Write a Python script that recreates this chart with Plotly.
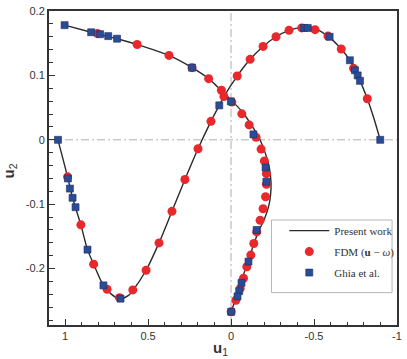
import plotly.graph_objects as go

# ---- Data ----
# Curve along vertical centreline (u1 vs u2)
line_v_u1 = [1.003, 0.843, 0.687, 0.566, 0.374, 0.235, 0.135, 0.057, -0.003, -0.066, -0.123,
             -0.171, -0.207, -0.231, -0.241, -0.238, -0.225, -0.201, -0.168, -0.138, -0.108,
             -0.081, -0.057, -0.036, -0.018, -0.001]
line_v_u2 = [0.178, 0.167, 0.157, 0.148, 0.131, 0.112, 0.095, 0.076, 0.061, 0.044, 0.023,
             0.002, -0.021, -0.044, -0.067, -0.086, -0.105, -0.123, -0.141, -0.161, -0.185,
             -0.205, -0.223, -0.242, -0.254, -0.267]

# Curve along horizontal centreline
line_h_u1 = [1.043, 0.985, 0.955, 0.905, 0.865, 0.828, 0.769, 0.720, 0.672, 0.620, 0.592, 0.512,
             0.434, 0.356, 0.278, 0.199, 0.121, 0.071, 0.043, -0.037, -0.115, -0.193, -0.271,
             -0.349, -0.426, -0.470, -0.506, -0.584, -0.664, -0.716, -0.763, -0.821, -0.860, -0.899]
line_h_u2 = [0.0, -0.0575, -0.090, -0.132, -0.1705, -0.193, -0.226, -0.240, -0.247, -0.242, -0.234,
             -0.2025, -0.160, -0.111, -0.0616, -0.0138, 0.0287, 0.0535, 0.0672, 0.099, 0.125, 0.145,
             0.160, 0.170, 0.175, 0.176, 0.173, 0.161, 0.141, 0.1235, 0.100, 0.0637, 0.034, 0.0]

# FDM (u - omega) circles
fdm_v_u1 = [0.805, 0.566, 0.374, 0.235, 0.135, 0.058, -0.005, -0.065, -0.109, -0.151, -0.181,
            -0.201, -0.213, -0.213, -0.208, -0.193, -0.175, -0.155, -0.137, -0.119, -0.095,
            -0.075, -0.055, -0.029, -0.001]
fdm_v_u2 = [0.165, 0.148, 0.131, 0.112, 0.095, 0.077, 0.0586, 0.0403, 0.0231, 0.0038, -0.0144,
            -0.0327, -0.0525, -0.069, -0.0884, -0.107, -0.125, -0.143, -0.161, -0.179, -0.197,
            -0.215, -0.231, -0.249, -0.267]
fdm_h_u1 = [0.985, 0.905, 0.828, 0.747, 0.672, 0.592, 0.512, 0.434, 0.356, 0.278, 0.199, 0.121,
            0.043, -0.037, -0.115, -0.193, -0.271, -0.349, -0.426, -0.506, -0.584, -0.664,
            -0.738, -0.821]
fdm_h_u2 = [-0.0575, -0.132, -0.193, -0.232, -0.245, -0.233, -0.2025, -0.160, -0.111, -0.0616,
            -0.0138, 0.0287, 0.0672, 0.099, 0.125, 0.145, 0.160, 0.170, 0.1737, 0.171, 0.161,
            0.141, 0.111, 0.0637]

# Ghia et al. squares
ghia_v_u1 = [1.003, 0.843, 0.789, 0.740, 0.687, 0.235, 0.001, -0.135, -0.208, -0.213, -0.154,
             -0.105, -0.063, -0.049, -0.039, -0.001]
ghia_v_u2 = [0.178, 0.167, 0.164, 0.161, 0.157, 0.112, 0.0596, 0.0084, -0.043, -0.065, -0.140,
             -0.189, -0.222, -0.235, -0.243, -0.267]
ghia_h_u1 = [1.043, 0.983, 0.971, 0.955, 0.937, 0.865, 0.769, 0.666, 0.071, -0.440, -0.462,
             -0.594, -0.716, -0.747, -0.763, -0.777, -0.899]
ghia_h_u2 = [0.0, -0.060, -0.0757, -0.090, -0.1046, -0.1705, -0.226, -0.2466, 0.0535, 0.1737,
             0.1737, 0.160, 0.1235, 0.108, 0.100, 0.0916, 0.0]

x_tickvals = [1, 0.5, 0, -0.5, -1]
x_ticktext = ["1", "0.5", "0", "-0.5", "-1"]
y_tickvals = [0.2, 0.1, 0, -0.1, -0.2]
y_ticktext = ["0.2", "0.1", "0", "-0.1", "-0.2"]

legend_names = ["Present work", "FDM (<b>u</b> − <i>ω</i>)", "Ghia et al."]

# ---- Figure ----
W, H = 407, 359
ml, mr, mt, mb = 49, 6, 5, 34
pw, ph = W - ml - mr, H - mt - mb

def px(xp):
    return (xp - ml) / pw

def py(yp):
    return (H - mb - yp) / ph

line_col = "#2b2b2b"
red = "#e8282b"
blue = "#2a4b95"

fig = go.Figure()
fig.add_trace(go.Scatter(x=line_v_u1, y=line_v_u2, mode="lines", name=legend_names[0],
                         line=dict(color=line_col, width=1.4, shape="spline", smoothing=0.8),
                         legendgroup="pw"))
fig.add_trace(go.Scatter(x=line_h_u1, y=line_h_u2, mode="lines", name=legend_names[0],
                         line=dict(color=line_col, width=1.4, shape="spline", smoothing=0.8),
                         legendgroup="pw", showlegend=False))
fig.add_trace(go.Scatter(x=fdm_v_u1 + fdm_h_u1, y=fdm_v_u2 + fdm_h_u2, mode="markers",
                         name=legend_names[1], legendgroup="fdm",
                         marker=dict(symbol="circle", size=9, color=red, line=dict(width=0))))
fig.add_trace(go.Scatter(x=ghia_v_u1 + ghia_h_u1, y=ghia_v_u2 + ghia_h_u2, mode="markers",
                         name=legend_names[2], legendgroup="ghia",
                         marker=dict(symbol="square", size=7, color=blue,
                                     line=dict(width=0.6, color="#1b2f66"))))

axis_common = dict(showgrid=False, zeroline=False, showline=True, mirror=True,
                   linecolor="#333333", linewidth=2, ticks="inside", tickcolor="#333333",
                   tickwidth=1, ticklen=6,
                   tickfont=dict(family="Liberation Sans, Arial", size=11, color="#333333"))

fig.update_layout(
    width=W, height=H,
    margin=dict(l=ml, r=mr, t=mt, b=mb),
    paper_bgcolor="white", plot_bgcolor="white",
    showlegend=True,
    xaxis=dict(range=[1.097, -1.0], tickmode="array", tickvals=x_tickvals, ticktext=x_ticktext,
               minor=dict(tickmode="linear", tick0=0, dtick=0.1, ticks="inside", ticklen=3.5,
                          tickcolor="#333333", tickwidth=1),
               **axis_common),
    yaxis=dict(range=[-0.2875, 0.2], tickmode="array", tickvals=y_tickvals, ticktext=y_ticktext,
               minor=dict(tickmode="linear", tick0=0, dtick=0.02, ticks="inside", ticklen=3.5,
                          tickcolor="#333333", tickwidth=1),
               **axis_common),
    legend=dict(x=px(287), y=py(214), xanchor="left", yanchor="top",
                bgcolor="rgba(0,0,0,0)", borderwidth=0, itemwidth=40,
                font=dict(family="Liberation Serif, Times New Roman", size=11, color="#333333"),
                tracegroupgap=2),
    shapes=[
        dict(type="line", xref="x", yref="paper", x0=0, x1=0, y0=0, y1=1, layer="below",
             line=dict(color="#b0b0b0", width=1, dash="8px,3px,2px,3px")),
        dict(type="line", xref="paper", yref="y", x0=0, x1=1, y0=0, y1=0, layer="below",
             line=dict(color="#b0b0b0", width=1, dash="8px,3px,2px,3px")),
        dict(type="rect", xref="paper", yref="paper", x0=px(274), x1=px(396), y0=py(292), y1=py(218),
             layer="below", fillcolor="white", line=dict(color="#b5b5b5", width=1)),
    ],
    annotations=[
        dict(text="<b>u</b><sub>1</sub>", xref="paper", yref="paper", x=px(222), y=py(349),
             showarrow=False, xanchor="center", yanchor="middle",
             font=dict(family="Liberation Sans, Arial", size=15, color="#333333")),
        dict(text="<b>u</b><sub>2</sub>", xref="paper", yref="paper", x=px(9), y=py(168),
             showarrow=False, xanchor="center", yanchor="middle", textangle=-90,
             font=dict(family="Liberation Sans, Arial", size=15, color="#333333")),
    ],
)

fig.write_html("out.html", config={"displayModeBar": False},
               post_script="document.body.style.margin='0';document.body.style.padding='0';"
                           "document.body.style.overflow='hidden';")
